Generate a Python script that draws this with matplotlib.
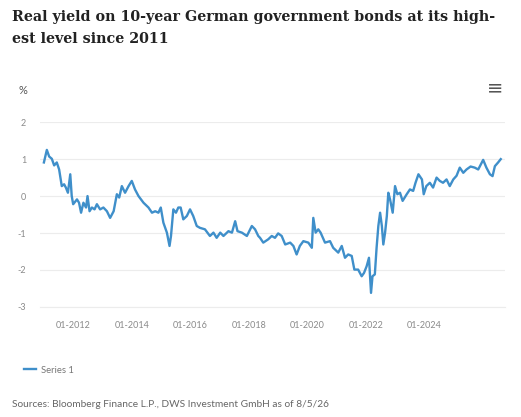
import matplotlib.pyplot as plt
import matplotlib.dates as mdates
import pandas as pd

plt.rcParams['font.family'] = ['Lato', 'DejaVu Sans']

# decimal year, real yield in %
years = [2011.0, 2011.1, 2011.18, 2011.27, 2011.35, 2011.44, 2011.52, 2011.61, 2011.69, 2011.75,
         2011.82, 2011.9, 2011.95, 2012.0, 2012.13, 2012.2, 2012.27, 2012.35, 2012.44, 2012.49,
         2012.56, 2012.64, 2012.73, 2012.81, 2012.92, 2013.03, 2013.15, 2013.26, 2013.38, 2013.49,
         2013.57, 2013.66, 2013.77, 2013.89, 2014.0, 2014.11, 2014.23, 2014.4, 2014.57, 2014.69,
         2014.8, 2014.91, 2014.99, 2015.08, 2015.2, 2015.29, 2015.34, 2015.42, 2015.51, 2015.59,
         2015.67, 2015.76, 2015.88, 2015.99, 2016.1, 2016.22, 2016.33, 2016.5, 2016.67, 2016.79,
         2016.9, 2017.02, 2017.13, 2017.3, 2017.42, 2017.53, 2017.61, 2017.76, 2017.93, 2018.1,
         2018.21, 2018.32, 2018.38, 2018.49, 2018.66, 2018.78, 2018.89, 2019.0, 2019.12, 2019.24,
         2019.41, 2019.52, 2019.63, 2019.74, 2019.86, 2020.03, 2020.15, 2020.2, 2020.28, 2020.37,
         2020.45, 2020.6, 2020.77, 2020.88, 2021.05, 2021.17, 2021.28, 2021.39, 2021.51, 2021.6,
         2021.73, 2021.85, 2021.93, 2022.02, 2022.1, 2022.17, 2022.22, 2022.3, 2022.36, 2022.42,
         2022.48, 2022.54, 2022.59, 2022.65, 2022.71, 2022.76, 2022.82, 2022.91, 2022.99, 2023.07,
         2023.16, 2023.25, 2023.39, 2023.5, 2023.61, 2023.69, 2023.79, 2023.91, 2023.97, 2024.06,
         2024.18, 2024.29, 2024.41, 2024.52, 2024.63, 2024.75, 2024.86, 2024.98, 2025.09, 2025.2,
         2025.32, 2025.43, 2025.57, 2025.71, 2025.83, 2026.0, 2026.11, 2026.23, 2026.32, 2026.4,
         2026.51, 2026.6]
real_yield = [0.91, 1.25, 1.07, 1.01, 0.83, 0.91, 0.72, 0.27, 0.32, 0.23,
              0.09, 0.59, 0.0, -0.22, -0.09, -0.18, -0.45, -0.18, -0.31, 0.0,
              -0.41, -0.31, -0.36, -0.22, -0.36, -0.31, -0.41, -0.59, -0.41, 0.05,
              -0.04, 0.27, 0.09, 0.27, 0.41, 0.18, 0.0, -0.18, -0.31, -0.45,
              -0.41, -0.45, -0.31, -0.72, -0.99, -1.35, -1.08, -0.36, -0.45, -0.31,
              -0.31, -0.63, -0.54, -0.36, -0.54, -0.81, -0.86, -0.9, -1.08, -0.99,
              -1.13, -0.99, -1.08, -0.95, -0.99, -0.68, -0.95, -0.99, -1.08, -0.81,
              -0.9, -1.08, -1.13, -1.26, -1.17, -1.08, -1.13, -1.01, -1.08, -1.31,
              -1.26, -1.35, -1.58, -1.35, -1.22, -1.26, -1.4, -0.59, -0.99, -0.9,
              -0.99, -1.26, -1.22, -1.4, -1.53, -1.35, -1.67, -1.58, -1.62, -1.99,
              -1.99, -2.17, -2.08, -1.9, -1.67, -2.62, -2.17, -2.12, -1.4, -0.81,
              -0.45, -0.81, -1.31, -0.99, -0.54, 0.09, -0.09, -0.45, 0.27, 0.05,
              0.09, -0.13, 0.05, 0.18, 0.14, 0.36, 0.59, 0.45, 0.05, 0.27,
              0.36, 0.23, 0.5, 0.41, 0.36, 0.45, 0.27, 0.45, 0.55, 0.77,
              0.63, 0.72, 0.8, 0.77, 0.72, 0.98, 0.77, 0.59, 0.54, 0.81,
              0.91, 1.0]

tick_years = [2012, 2014, 2016, 2018, 2020, 2022, 2024]
y_ticks = [-3, -2, -1, 0, 1, 2]


def to_date(y):
    start = pd.Timestamp(int(y), 1, 1)
    return start + pd.Timedelta(days=(y - int(y)) * 365.25)


dates = [to_date(y) for y in years]

fig = plt.figure(figsize=(5.21, 4.17), dpi=100)
ax = fig.add_axes([0.077, 0.264, 0.892, 0.443])

ax.plot(dates, real_yield, color="#3f8fca", linewidth=1.7, label="Series 1")

ax.set_ylim(-3, 2)
ax.set_yticks(y_ticks)
ax.set_yticklabels([str(t) for t in y_ticks])
ax.set_xlim(to_date(2010.87), to_date(2026.74))
ax.set_xticks([pd.Timestamp(y, 1, 1) for y in tick_years])
ax.xaxis.set_major_formatter(mdates.DateFormatter("%m-%Y"))

ax.grid(axis="y", color="#ececec", linewidth=0.8)
for s in ["top", "right", "left"]:
    ax.spines[s].set_visible(False)
ax.spines["bottom"].set_color("#ececec")
ax.tick_params(axis="both", length=0, labelsize=6.5, labelcolor="#8a8a8a")
ax.tick_params(axis="y", pad=10)
ax.tick_params(axis="x", pad=10)

fig.text(0.023, 0.977, "Real yield on 10-year German government bonds at its high-\nest level since 2011",
         family="DejaVu Serif", fontweight="bold", fontsize=10.3, va="top", ha="left",
         color="#222222", linespacing=1.8)
fig.text(0.036, 0.782, "%", fontsize=8, color="#555555", ha="left", va="center")
fig.text(0.95, 0.79, "\u2261", family="DejaVu Sans", fontsize=14, color="#555555",
         ha="center", va="center")

leg = fig.legend(loc="center left", bbox_to_anchor=(0.03, 0.112), frameon=False,
                 fontsize=6.8, handlelength=1.3, handletextpad=0.5)
for t in leg.get_texts():
    t.set_color("#777777")

fig.text(0.023, 0.02, "Sources: Bloomberg Finance L.P., DWS Investment GmbH as of 8/5/26",
         fontsize=7.3, color="#666666", ha="left", va="bottom")

fig.savefig("out.png", dpi=100)
